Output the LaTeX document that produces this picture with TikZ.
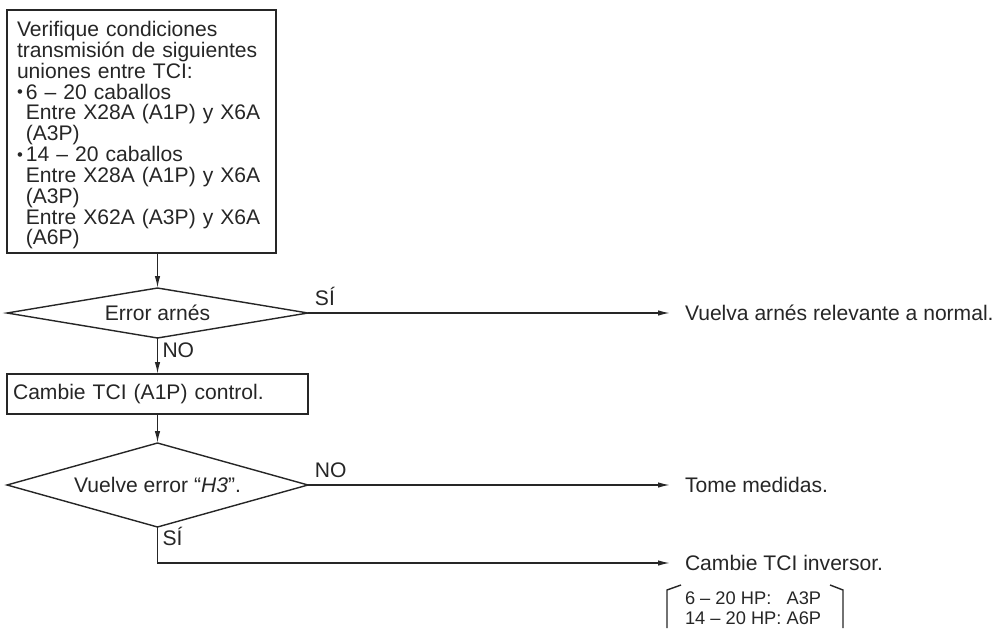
\documentclass[tikz,border=0pt]{standalone}
\usepackage{fontspec}
\setmainfont{Liberation Sans}
\usetikzlibrary{shapes.geometric,arrows.meta}
\newcommand{\bul}{\makebox[0.42em][l]{\raisebox{0.06em}{\fontsize{9.5}{9}\selectfont•}}}
\newcommand{\sangria}{\hspace*{0.42em}}

\begin{document}
\begin{tikzpicture}[x=0.02cm,y=-0.02cm,inner sep=0pt,outer sep=0pt,line width=0.8pt,color=black!85,
>={Latex[length=2.4mm,width=1.1mm]},font=\fontsize{12}{11.85}\selectfont,
procblock/.style={draw,rectangle,align=left,inner xsep=0.2cm},
decision/.style={draw,diamond,aspect=6,minimum width=6.02cm},
answer/.style={anchor=south west,inner xsep=0.14cm,inner ysep=0.14cm},
downanswer/.style={anchor=base west,inner xsep=0.1cm},
result/.style={anchor=west,inner xsep=0.3cm}]
\useasboundingbox (0,0) rectangle (999,628);
\draw (141.5,131.5) node[procblock,text width=4.98cm,minimum height=4.86cm] (check) {\rule{0pt}{0.46cm}Verifique condiciones\\
transmisión de siguientes\\
uniones entre TCI:\\
\bul 6 – 20 caballos\\
\sangria Entre X28A (A1P) y X6A\\
\sangria (A3P)\\
\bul 14 – 20 caballos\\
\sangria Entre X28A (A1P) y X6A\\
\sangria (A3P)\\
\sangria Entre X62A (A3P) y X6A\\
\sangria (A6P)};
\draw (157.5,313) node[decision,minimum height=1cm] (harness) {Error arnés};
\draw (157.5,394) node[procblock,inner xsep=0.12cm,text width=5.78cm,minimum height=0.8cm] (ctrl) {Cambie TCI (A1P) control.};
\draw (157.5,485) node[decision,minimum height=1.68cm] (again) {Vuelve error “\textit{H3}”.};
\draw (670,313) node[result] (fixharness) {Vuelva arnés relevante a normal.};
\draw (670,485) node[result] (measures) {Tome medidas.};
\draw (670,563) node[result] (inverter) {Cambie TCI inversor.};
\draw (685,592) node[anchor=north west,align=left,font=\fontsize{10.4}{11.4}\selectfont] (hp) {6 – 20 HP: \phantom{1}A3P\\14 – 20 HP: A6P};
\draw[->] (harness.north |- check.south) -- (harness.north);
\draw[->] (harness.east) -- node[pos=0,answer] {SÍ} (fixharness.west);
\draw[->] (harness.south) -- node[pos=0.53,downanswer] {NO} (ctrl.north);
\draw[->] (ctrl.south) -- (again.north);
\draw[->] (again.east) -- node[pos=0,answer] {NO} (measures.west);
\draw[->] (again.south) |- node[pos=0.26,downanswer] {SÍ} (inverter.west);
\draw (681,585) -- (667,590) -- (667,628);
\draw (830,585) -- (843,590) -- (843,628);
\end{tikzpicture}
\end{document}
